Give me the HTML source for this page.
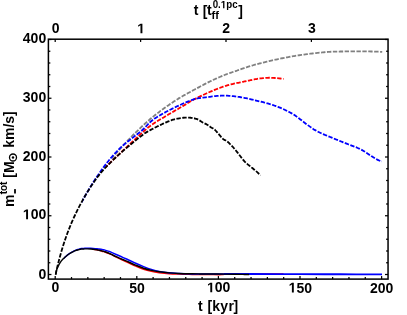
<!DOCTYPE html>
<html><head><meta charset="utf-8"><title>plot</title>
<style>
html,body{margin:0;padding:0;background:#fff;}
body{width:407px;height:315px;overflow:hidden;}
svg{display:block;will-change:transform;}
text{font-family:"Liberation Sans",sans-serif;font-weight:bold;fill:#000;}
</style></head><body>
<svg width="407" height="315" viewBox="0 0 407 315">
<rect x="0" y="0" width="407" height="315" fill="#fff"/>
<clipPath id="c0"><rect x="112.0" y="0" width="407" height="315"/></clipPath>
<path d="M55.70 274.60 C55.74 274.35 55.86 273.66 55.97 273.11 C56.07 272.56 56.19 272.00 56.33 271.33 C56.47 270.66 56.63 269.93 56.82 269.08 C57.01 268.23 57.22 267.30 57.47 266.22 C57.73 265.13 58.01 263.95 58.36 262.58 C58.71 261.20 59.09 259.70 59.56 257.96 C60.03 256.23 60.58 254.23 61.18 252.16 C61.78 250.10 62.51 247.67 63.18 245.56 C63.85 243.44 64.51 241.42 65.18 239.47 C65.85 237.51 66.51 235.64 67.18 233.83 C67.85 232.02 68.51 230.28 69.18 228.59 C69.85 226.91 70.51 225.29 71.18 223.70 C71.85 222.12 72.51 220.59 73.18 219.10 C73.85 217.60 74.51 216.16 75.18 214.74 C75.85 213.32 76.51 211.94 77.18 210.59 C77.85 209.24 78.51 207.93 79.18 206.64 C79.85 205.35 80.51 204.09 81.18 202.86 C81.85 201.62 82.51 200.41 83.18 199.23 C83.85 198.04 84.51 196.88 85.18 195.74 C85.85 194.60 86.51 193.49 87.18 192.39 C87.85 191.29 88.51 190.21 89.18 189.15 C89.85 188.09 90.51 187.06 91.18 186.03 C91.85 185.01 92.51 184.00 93.18 183.01 C93.85 182.01 94.51 181.04 95.18 180.07 C95.85 179.11 96.51 178.16 97.18 177.22 C97.85 176.29 98.51 175.36 99.18 174.45 C99.85 173.54 100.51 172.64 101.18 171.75 C101.85 170.86 102.51 169.98 103.18 169.11 C103.85 168.24 104.51 167.38 105.18 166.53 C105.85 165.68 106.51 164.84 107.18 164.01 C107.85 163.17 108.51 162.35 109.18 161.53 C109.85 160.72 110.51 159.91 111.18 159.11 C111.85 158.31 112.51 157.51 113.18 156.73 C113.85 155.94 114.51 155.16 115.18 154.39 C115.85 153.62 116.51 152.85 117.18 152.09 C117.85 151.33 118.51 150.58 119.18 149.83 C119.85 149.08 120.51 148.34 121.18 147.60 C121.85 146.87 122.51 146.14 123.18 145.41 C123.85 144.69 124.51 143.97 125.18 143.26 C125.85 142.55 126.51 141.84 127.18 141.14 C127.85 140.44 128.51 139.74 129.18 139.05 C129.85 138.36 130.51 137.67 131.18 137.00 C131.85 136.32 132.51 135.64 133.18 134.97 C133.85 134.31 134.51 133.64 135.18 132.99 C135.85 132.33 136.51 131.68 137.18 131.03 C137.85 130.38 138.51 129.74 139.18 129.11 C139.85 128.47 140.51 127.84 141.18 127.21 C141.85 126.59 142.51 125.97 143.18 125.35 C143.85 124.74 144.51 124.13 145.18 123.52 C145.85 122.92 146.51 122.32 147.18 121.72 C147.85 121.13 148.51 120.53 149.18 119.95 C149.85 119.38 150.51 118.81 151.18 118.26 C151.85 117.70 152.51 117.16 153.18 116.62 C153.85 116.08 154.51 115.54 155.18 115.01 C155.85 114.48 156.51 113.96 157.18 113.44 C157.85 112.93 158.51 112.41 159.18 111.91 C159.85 111.40 160.51 110.90 161.18 110.41 C161.85 109.92 162.51 109.43 163.18 108.95 C163.85 108.46 164.51 107.99 165.18 107.52 C165.85 107.04 166.51 106.56 167.18 106.09 C167.85 105.62 168.51 105.15 169.18 104.69 C169.85 104.23 170.51 103.78 171.18 103.33 C171.85 102.88 172.51 102.43 173.18 101.99 C173.85 101.55 174.51 101.12 175.18 100.68 C175.85 100.25 176.51 99.83 177.18 99.40 C177.85 98.98 178.51 98.55 179.18 98.14 C179.85 97.73 180.51 97.34 181.18 96.95 C181.85 96.56 182.51 96.19 183.18 95.82 C183.85 95.44 184.51 95.07 185.18 94.70 C185.85 94.33 186.51 93.96 187.18 93.60 C187.85 93.23 188.51 92.88 189.18 92.51 C189.85 92.15 190.51 91.77 191.18 91.41 C191.85 91.04 192.51 90.66 193.18 90.29 C193.85 89.93 194.51 89.56 195.18 89.20 C195.85 88.84 196.51 88.48 197.18 88.13 C197.85 87.78 198.51 87.43 199.18 87.08 C199.85 86.72 200.51 86.37 201.18 86.01 C201.85 85.65 202.51 85.29 203.18 84.94 C203.85 84.59 204.51 84.24 205.18 83.89 C205.85 83.55 206.51 83.20 207.18 82.87 C207.85 82.53 208.51 82.19 209.18 81.86 C209.85 81.53 210.51 81.21 211.18 80.89 C211.85 80.56 212.51 80.25 213.18 79.93 C213.85 79.62 214.51 79.31 215.18 79.00 C215.85 78.70 216.51 78.39 217.18 78.10 C217.85 77.80 218.51 77.51 219.18 77.22 C219.85 76.93 220.51 76.65 221.18 76.37 C221.85 76.09 222.51 75.81 223.18 75.54 C223.85 75.27 224.51 75.00 225.18 74.74 C225.85 74.49 226.51 74.25 227.18 74.00 C227.85 73.76 228.51 73.52 229.18 73.29 C229.85 73.05 230.51 72.82 231.18 72.59 C231.85 72.37 232.51 72.14 233.18 71.92 C233.85 71.70 234.51 71.49 235.18 71.26 C235.85 71.03 236.51 70.76 237.18 70.52 C237.85 70.28 238.51 70.04 239.18 69.80 C239.85 69.56 240.51 69.33 241.18 69.09 C241.85 68.86 242.51 68.63 243.18 68.41 C243.85 68.18 244.51 67.96 245.18 67.73 C245.85 67.51 246.51 67.29 247.18 67.08 C247.85 66.86 248.51 66.64 249.18 66.43 C249.85 66.23 250.51 66.02 251.18 65.82 C251.85 65.63 252.51 65.43 253.18 65.24 C253.85 65.05 254.51 64.86 255.18 64.67 C255.85 64.49 256.51 64.30 257.18 64.12 C257.85 63.94 258.51 63.76 259.18 63.58 C259.85 63.40 260.51 63.22 261.18 63.05 C261.85 62.88 262.51 62.71 263.18 62.53 C263.85 62.36 264.51 62.19 265.18 62.02 C265.85 61.86 266.51 61.69 267.18 61.52 C267.85 61.36 268.51 61.19 269.18 61.03 C269.85 60.87 270.51 60.72 271.18 60.56 C271.85 60.41 272.51 60.26 273.18 60.12 C273.85 59.97 274.51 59.82 275.18 59.68 C275.85 59.54 276.51 59.39 277.18 59.26 C277.85 59.12 278.51 58.98 279.18 58.84 C279.85 58.71 280.51 58.57 281.18 58.44 C281.85 58.31 282.51 58.18 283.18 58.05 C283.85 57.93 284.51 57.80 285.18 57.68 C285.85 57.55 286.51 57.42 287.18 57.30 C287.85 57.17 288.51 57.05 289.18 56.93 C289.85 56.81 290.51 56.69 291.18 56.57 C291.85 56.46 292.51 56.34 293.18 56.23 C293.85 56.11 294.51 56.00 295.18 55.89 C295.85 55.78 296.51 55.67 297.18 55.57 C297.85 55.46 298.51 55.36 299.18 55.25 C299.85 55.15 300.51 55.05 301.18 54.95 C301.85 54.85 302.51 54.76 303.18 54.66 C303.85 54.57 304.51 54.48 305.18 54.38 C305.85 54.29 306.51 54.20 307.18 54.12 C307.85 54.03 308.51 53.94 309.18 53.86 C309.85 53.77 310.51 53.69 311.18 53.61 C311.85 53.53 312.51 53.45 313.18 53.37 C313.85 53.29 314.51 53.22 315.18 53.14 C315.85 53.07 316.51 53.00 317.18 52.93 C317.85 52.86 318.51 52.79 319.18 52.72 C319.85 52.66 320.51 52.59 321.18 52.53 C321.85 52.46 322.51 52.40 323.18 52.34 C323.85 52.28 324.51 52.22 325.18 52.16 C325.85 52.10 326.51 52.05 327.18 51.99 C327.85 51.94 328.51 51.88 329.18 51.84 C329.85 51.79 330.51 51.76 331.18 51.73 C331.85 51.70 332.51 51.69 333.18 51.67 C333.85 51.65 334.51 51.63 335.18 51.61 C335.85 51.59 336.51 51.58 337.18 51.56 C337.85 51.55 338.51 51.54 339.18 51.53 C339.85 51.52 340.51 51.51 341.18 51.50 C341.85 51.49 342.51 51.48 343.18 51.48 C343.85 51.47 344.51 51.47 345.18 51.46 C345.85 51.45 346.51 51.43 347.18 51.41 C347.85 51.40 348.51 51.39 349.18 51.38 C349.85 51.37 350.51 51.36 351.18 51.35 C351.85 51.34 352.51 51.33 353.18 51.33 C353.85 51.32 354.51 51.32 355.18 51.32 C355.85 51.31 356.51 51.31 357.18 51.31 C357.85 51.31 358.51 51.31 359.18 51.31 C359.85 51.32 360.51 51.32 361.18 51.33 C361.85 51.33 362.51 51.34 363.18 51.34 C363.85 51.35 364.51 51.36 365.18 51.37 C365.85 51.38 366.51 51.39 367.18 51.40 C367.85 51.42 368.51 51.43 369.18 51.44 C369.85 51.46 370.51 51.48 371.18 51.49 C371.85 51.51 372.51 51.53 373.18 51.55 C373.85 51.57 374.51 51.59 375.18 51.61 C375.85 51.63 376.51 51.66 377.18 51.68 C377.85 51.71 378.51 51.73 379.18 51.76 C379.85 51.78 380.68 51.82 381.18 51.84 C381.68 51.86 382.03 51.88 382.20 51.89" fill="none" stroke="#808080" stroke-width="1.8" stroke-dasharray="4.4 1.5" clip-path="url(#c0)"/>
<clipPath id="c2"><rect x="106.0" y="0" width="407" height="315"/></clipPath>
<path d="M55.70 274.60 C55.74 274.31 55.86 273.46 55.97 272.86 C56.07 272.25 56.19 271.67 56.33 270.98 C56.47 270.28 56.63 269.55 56.82 268.70 C57.01 267.85 57.22 266.93 57.47 265.87 C57.73 264.80 58.01 263.65 58.36 262.30 C58.71 260.96 59.09 259.51 59.56 257.82 C60.03 256.14 60.58 254.20 61.18 252.19 C61.78 250.18 62.51 247.82 63.18 245.74 C63.85 243.67 64.51 241.68 65.18 239.74 C65.85 237.81 66.51 235.94 67.18 234.12 C67.85 232.30 68.51 230.55 69.18 228.83 C69.85 227.12 70.51 225.46 71.18 223.84 C71.85 222.22 72.51 220.65 73.18 219.12 C73.85 217.59 74.51 216.11 75.18 214.66 C75.85 213.21 76.51 211.80 77.18 210.43 C77.85 209.06 78.51 207.72 79.18 206.42 C79.85 205.13 80.51 203.86 81.18 202.63 C81.85 201.40 82.51 200.20 83.18 199.03 C83.85 197.86 84.51 196.72 85.18 195.59 C85.85 194.47 86.51 193.38 87.18 192.30 C87.85 191.22 88.51 190.16 89.18 189.12 C89.85 188.07 90.51 187.05 91.18 186.04 C91.85 185.02 92.51 184.03 93.18 183.04 C93.85 182.06 94.51 181.09 95.18 180.14 C95.85 179.19 96.51 178.25 97.18 177.34 C97.85 176.42 98.51 175.51 99.18 174.65 C99.85 173.79 100.51 172.97 101.18 172.17 C101.85 171.38 102.51 170.62 103.18 169.88 C103.85 169.14 104.51 168.42 105.18 167.71 C105.85 167.01 106.51 166.32 107.18 165.65 C107.85 164.97 108.51 164.32 109.18 163.67 C109.85 163.02 110.51 162.40 111.18 161.76 C111.85 161.12 112.51 160.48 113.18 159.83 C113.85 159.19 114.51 158.53 115.18 157.89 C115.85 157.25 116.51 156.61 117.18 155.98 C117.85 155.35 118.51 154.73 119.18 154.10 C119.85 153.48 120.51 152.86 121.18 152.24 C121.85 151.62 122.51 151.00 123.18 150.39 C123.85 149.77 124.51 149.15 125.18 148.54 C125.85 147.92 126.51 147.30 127.18 146.68 C127.85 146.06 128.51 145.45 129.18 144.83 C129.85 144.21 130.51 143.58 131.18 142.95 C131.85 142.32 132.51 141.68 133.18 141.05 C133.85 140.42 134.51 139.79 135.18 139.17 C135.85 138.54 136.51 137.92 137.18 137.30 C137.85 136.68 138.51 136.06 139.18 135.44 C139.85 134.83 140.51 134.22 141.18 133.61 C141.85 133.00 142.51 132.40 143.18 131.80 C143.85 131.20 144.51 130.60 145.18 130.02 C145.85 129.44 146.51 128.88 147.18 128.34 C147.85 127.79 148.51 127.25 149.18 126.74 C149.85 126.23 150.51 125.73 151.18 125.25 C151.85 124.77 152.51 124.32 153.18 123.87 C153.85 123.41 154.51 122.97 155.18 122.53 C155.85 122.10 156.51 121.67 157.18 121.25 C157.85 120.83 158.51 120.42 159.18 120.02 C159.85 119.61 160.51 119.22 161.18 118.83 C161.85 118.44 162.51 118.06 163.18 117.68 C163.85 117.29 164.51 116.94 165.18 116.54 C165.85 116.15 166.51 115.71 167.18 115.30 C167.85 114.89 168.51 114.49 169.18 114.09 C169.85 113.69 170.51 113.29 171.18 112.90 C171.85 112.50 172.51 112.12 173.18 111.73 C173.85 111.35 174.51 110.96 175.18 110.58 C175.85 110.21 176.51 109.83 177.18 109.46 C177.85 109.08 178.51 108.73 179.18 108.34 C179.85 107.96 180.51 107.55 181.18 107.14 C181.85 106.73 182.51 106.30 183.18 105.88 C183.85 105.47 184.51 105.05 185.18 104.63 C185.85 104.22 186.51 103.81 187.18 103.39 C187.85 102.98 188.51 102.57 189.18 102.16 C189.85 101.75 190.51 101.33 191.18 100.94 C191.85 100.56 192.51 100.20 193.18 99.84 C193.85 99.49 194.51 99.17 195.18 98.83 C195.85 98.50 196.51 98.17 197.18 97.84 C197.85 97.51 198.51 97.18 199.18 96.86 C199.85 96.54 200.51 96.22 201.18 95.90 C201.85 95.58 202.51 95.27 203.18 94.95 C203.85 94.64 204.51 94.34 205.18 94.03 C205.85 93.72 206.51 93.42 207.18 93.12 C207.85 92.82 208.51 92.52 209.18 92.23 C209.85 91.94 210.51 91.65 211.18 91.37 C211.85 91.08 212.51 90.80 213.18 90.52 C213.85 90.25 214.51 89.97 215.18 89.70 C215.85 89.43 216.51 89.17 217.18 88.91 C217.85 88.65 218.51 88.39 219.18 88.14 C219.85 87.89 220.51 87.64 221.18 87.39 C221.85 87.15 222.51 86.91 223.18 86.68 C223.85 86.44 224.51 86.20 225.18 85.99 C225.85 85.78 226.51 85.59 227.18 85.39 C227.85 85.20 228.51 85.01 229.18 84.82 C229.85 84.64 230.51 84.46 231.18 84.28 C231.85 84.11 232.51 83.93 233.18 83.77 C233.85 83.61 234.51 83.47 235.18 83.33 C235.85 83.18 236.51 83.05 237.18 82.91 C237.85 82.78 238.51 82.65 239.18 82.53 C239.85 82.41 240.51 82.30 241.18 82.18 C241.85 82.05 242.51 81.90 243.18 81.76 C243.85 81.62 244.51 81.46 245.18 81.31 C245.85 81.17 246.51 81.03 247.18 80.89 C247.85 80.76 248.51 80.64 249.18 80.51 C249.85 80.38 250.51 80.23 251.18 80.09 C251.85 79.94 252.51 79.79 253.18 79.64 C253.85 79.50 254.51 79.37 255.18 79.24 C255.85 79.11 256.51 78.98 257.18 78.86 C257.85 78.75 258.51 78.65 259.18 78.56 C259.85 78.47 260.51 78.39 261.18 78.31 C261.85 78.23 262.51 78.16 263.18 78.10 C263.85 78.03 264.51 77.97 265.18 77.92 C265.85 77.87 266.51 77.81 267.18 77.78 C267.85 77.75 268.51 77.75 269.18 77.75 C269.85 77.75 270.51 77.78 271.18 77.80 C271.85 77.83 272.51 77.85 273.18 77.89 C273.85 77.93 274.51 77.97 275.18 78.02 C275.85 78.07 276.51 78.12 277.18 78.18 C277.85 78.24 278.51 78.31 279.18 78.38 C279.85 78.46 280.51 78.54 281.18 78.62 C281.85 78.71 282.78 78.84 283.18 78.90 C283.58 78.96 283.53 78.95 283.60 78.96" fill="none" stroke="#ff0000" stroke-width="1.8" stroke-dasharray="4.4 1.5" clip-path="url(#c2)"/>
<clipPath id="c4"><rect x="82.0" y="0" width="407" height="315"/></clipPath>
<path d="M55.70 274.60 C55.74 274.31 55.86 273.44 55.97 272.84 C56.07 272.23 56.19 271.67 56.33 270.99 C56.47 270.31 56.63 269.60 56.82 268.76 C57.01 267.93 57.22 267.04 57.47 266.00 C57.73 264.96 58.01 263.83 58.36 262.51 C58.71 261.20 59.09 259.76 59.56 258.09 C60.03 256.41 60.58 254.48 61.18 252.44 C61.78 250.41 62.51 247.99 63.18 245.86 C63.85 243.73 64.51 241.65 65.18 239.65 C65.85 237.64 66.51 235.70 67.18 233.83 C67.85 231.96 68.51 230.16 69.18 228.43 C69.85 226.70 70.51 225.05 71.18 223.45 C71.85 221.85 72.51 220.33 73.18 218.84 C73.85 217.36 74.51 215.93 75.18 214.53 C75.85 213.14 76.51 211.79 77.18 210.47 C77.85 209.15 78.51 207.86 79.18 206.60 C79.85 205.34 80.51 204.11 81.18 202.90 C81.85 201.69 82.51 200.52 83.18 199.34 C83.85 198.16 84.51 196.98 85.18 195.81 C85.85 194.64 86.51 193.48 87.18 192.33 C87.85 191.18 88.51 190.05 89.18 188.93 C89.85 187.81 90.51 186.69 91.18 185.60 C91.85 184.52 92.51 183.46 93.18 182.41 C93.85 181.37 94.51 180.36 95.18 179.34 C95.85 178.33 96.51 177.33 97.18 176.34 C97.85 175.35 98.51 174.37 99.18 173.41 C99.85 172.45 100.51 171.50 101.18 170.56 C101.85 169.63 102.51 168.70 103.18 167.80 C103.85 166.89 104.51 165.99 105.18 165.12 C105.85 164.24 106.51 163.37 107.18 162.53 C107.85 161.68 108.51 160.85 109.18 160.03 C109.85 159.21 110.51 158.41 111.18 157.63 C111.85 156.85 112.51 156.08 113.18 155.33 C113.85 154.58 114.51 153.84 115.18 153.12 C115.85 152.40 116.51 151.70 117.18 151.02 C117.85 150.33 118.51 149.67 119.18 149.02 C119.85 148.37 120.51 147.73 121.18 147.12 C121.85 146.50 122.51 145.90 123.18 145.32 C123.85 144.74 124.51 144.18 125.18 143.63 C125.85 143.07 126.51 142.54 127.18 142.01 C127.85 141.49 128.51 140.97 129.18 140.45 C129.85 139.93 130.51 139.42 131.18 138.91 C131.85 138.39 132.51 137.87 133.18 137.35 C133.85 136.83 134.51 136.28 135.18 135.77 C135.85 135.26 136.51 134.80 137.18 134.30 C137.85 133.79 138.51 133.27 139.18 132.73 C139.85 132.19 140.51 131.64 141.18 131.06 C141.85 130.49 142.51 129.89 143.18 129.27 C143.85 128.64 144.51 128.00 145.18 127.33 C145.85 126.66 146.51 125.92 147.18 125.23 C147.85 124.54 148.51 123.84 149.18 123.18 C149.85 122.53 150.51 121.88 151.18 121.28 C151.85 120.68 152.51 120.12 153.18 119.60 C153.85 119.09 154.51 118.63 155.18 118.18 C155.85 117.73 156.51 117.33 157.18 116.93 C157.85 116.53 158.51 116.16 159.18 115.78 C159.85 115.39 160.51 115.01 161.18 114.63 C161.85 114.25 162.51 113.87 163.18 113.49 C163.85 113.11 164.51 112.74 165.18 112.37 C165.85 112.01 166.51 111.64 167.18 111.28 C167.85 110.93 168.51 110.57 169.18 110.22 C169.85 109.88 170.51 109.53 171.18 109.19 C171.85 108.85 172.51 108.52 173.18 108.19 C173.85 107.87 174.51 107.54 175.18 107.23 C175.85 106.91 176.51 106.60 177.18 106.29 C177.85 105.99 178.51 105.70 179.18 105.39 C179.85 105.09 180.51 104.78 181.18 104.47 C181.85 104.17 182.51 103.85 183.18 103.55 C183.85 103.25 184.51 102.95 185.18 102.66 C185.85 102.37 186.51 102.09 187.18 101.81 C187.85 101.54 188.51 101.27 189.18 101.01 C189.85 100.74 190.51 100.48 191.18 100.24 C191.85 100.00 192.51 99.78 193.18 99.57 C193.85 99.36 194.51 99.17 195.18 98.99 C195.85 98.80 196.51 98.61 197.18 98.46 C197.85 98.32 198.51 98.23 199.18 98.12 C199.85 98.01 200.51 97.91 201.18 97.82 C201.85 97.72 202.51 97.64 203.18 97.56 C203.85 97.48 204.51 97.41 205.18 97.35 C205.85 97.29 206.51 97.26 207.18 97.19 C207.85 97.11 208.51 97.00 209.18 96.90 C209.85 96.80 210.51 96.69 211.18 96.60 C211.85 96.51 212.51 96.43 213.18 96.35 C213.85 96.27 214.51 96.20 215.18 96.14 C215.85 96.07 216.51 96.02 217.18 95.97 C217.85 95.92 218.51 95.87 219.18 95.83 C219.85 95.79 220.51 95.75 221.18 95.72 C221.85 95.69 222.51 95.66 223.18 95.64 C223.85 95.63 224.51 95.60 225.18 95.61 C225.85 95.61 226.51 95.63 227.18 95.67 C227.85 95.70 228.51 95.75 229.18 95.80 C229.85 95.85 230.51 95.91 231.18 95.97 C231.85 96.03 232.51 96.10 233.18 96.17 C233.85 96.24 234.51 96.32 235.18 96.40 C235.85 96.49 236.51 96.57 237.18 96.67 C237.85 96.76 238.51 96.86 239.18 96.96 C239.85 97.06 240.51 97.17 241.18 97.28 C241.85 97.39 242.51 97.51 243.18 97.63 C243.85 97.75 244.51 97.88 245.18 98.01 C245.85 98.14 246.51 98.27 247.18 98.41 C247.85 98.55 248.51 98.70 249.18 98.84 C249.85 98.99 250.51 99.14 251.18 99.30 C251.85 99.45 252.51 99.61 253.18 99.77 C253.85 99.94 254.51 100.11 255.18 100.28 C255.85 100.45 256.51 100.63 257.18 100.80 C257.85 100.97 258.51 101.13 259.18 101.29 C259.85 101.44 260.51 101.59 261.18 101.75 C261.85 101.91 262.51 102.07 263.18 102.24 C263.85 102.41 264.51 102.57 265.18 102.75 C265.85 102.92 266.51 103.09 267.18 103.27 C267.85 103.45 268.51 103.62 269.18 103.82 C269.85 104.01 270.51 104.22 271.18 104.44 C271.85 104.66 272.51 104.89 273.18 105.12 C273.85 105.36 274.51 105.59 275.18 105.83 C275.85 106.08 276.51 106.32 277.18 106.58 C277.85 106.83 278.51 107.09 279.18 107.35 C279.85 107.62 280.51 107.89 281.18 108.17 C281.85 108.45 282.51 108.74 283.18 109.04 C283.85 109.34 284.51 109.65 285.18 109.97 C285.85 110.29 286.51 110.62 287.18 110.96 C287.85 111.30 288.51 111.65 289.18 112.01 C289.85 112.37 290.51 112.74 291.18 113.12 C291.85 113.50 292.51 113.89 293.18 114.30 C293.85 114.71 294.51 115.11 295.18 115.56 C295.85 116.00 296.51 116.49 297.18 116.97 C297.85 117.45 298.51 117.95 299.18 118.46 C299.85 118.96 300.51 119.48 301.18 120.01 C301.85 120.53 302.51 121.06 303.18 121.59 C303.85 122.12 304.51 122.67 305.18 123.18 C305.85 123.70 306.51 124.18 307.18 124.68 C307.85 125.17 308.51 125.66 309.18 126.14 C309.85 126.62 310.51 127.09 311.18 127.55 C311.85 128.00 312.51 128.45 313.18 128.88 C313.85 129.31 314.51 129.72 315.18 130.12 C315.85 130.51 316.51 130.89 317.18 131.25 C317.85 131.61 318.51 131.95 319.18 132.28 C319.85 132.61 320.51 132.92 321.18 133.23 C321.85 133.53 322.51 133.83 323.18 134.12 C323.85 134.41 324.51 134.69 325.18 134.96 C325.85 135.24 326.51 135.51 327.18 135.79 C327.85 136.06 328.51 136.33 329.18 136.61 C329.85 136.88 330.51 137.15 331.18 137.42 C331.85 137.70 332.51 137.97 333.18 138.24 C333.85 138.52 334.51 138.79 335.18 139.06 C335.85 139.33 336.51 139.61 337.18 139.88 C337.85 140.15 338.51 140.42 339.18 140.69 C339.85 140.96 340.51 141.23 341.18 141.50 C341.85 141.77 342.51 142.03 343.18 142.30 C343.85 142.57 344.51 142.83 345.18 143.10 C345.85 143.36 346.51 143.62 347.18 143.89 C347.85 144.15 348.51 144.41 349.18 144.67 C349.85 144.93 350.51 145.18 351.18 145.44 C351.85 145.69 352.51 145.95 353.18 146.20 C353.85 146.45 354.51 146.70 355.18 146.95 C355.85 147.21 356.51 147.46 357.18 147.74 C357.85 148.01 358.51 148.29 359.18 148.59 C359.85 148.90 360.51 149.22 361.18 149.58 C361.85 149.93 362.51 150.31 363.18 150.71 C363.85 151.11 364.51 151.53 365.18 151.96 C365.85 152.40 366.51 152.85 367.18 153.29 C367.85 153.74 368.51 154.20 369.18 154.66 C369.85 155.11 370.51 155.57 371.18 156.01 C371.85 156.45 372.51 156.90 373.18 157.31 C373.85 157.73 374.51 158.14 375.18 158.53 C375.85 158.91 376.51 159.28 377.18 159.61 C377.85 159.94 378.51 160.25 379.18 160.52 C379.85 160.78 380.73 161.07 381.18 161.22 C381.63 161.37 381.78 161.38 381.90 161.41" fill="none" stroke="#0000ff" stroke-width="1.8" stroke-dasharray="4.4 1.5" clip-path="url(#c4)"/>
<path d="M55.70 274.60 C55.74 274.36 55.86 273.68 55.97 273.14 C56.07 272.60 56.19 272.04 56.33 271.37 C56.47 270.70 56.63 269.98 56.82 269.12 C57.01 268.27 57.22 267.35 57.47 266.26 C57.73 265.17 58.01 263.99 58.36 262.61 C58.71 261.23 59.09 259.72 59.56 257.98 C60.03 256.24 60.58 254.23 61.18 252.16 C61.78 250.08 62.51 247.65 63.18 245.53 C63.85 243.41 64.51 241.39 65.18 239.43 C65.85 237.47 66.51 235.60 67.18 233.79 C67.85 231.98 68.51 230.24 69.18 228.56 C69.85 226.87 70.51 225.25 71.18 223.67 C71.85 222.10 72.51 220.57 73.18 219.08 C73.85 217.59 74.51 216.15 75.18 214.74 C75.85 213.32 76.51 211.95 77.18 210.61 C77.85 209.26 78.51 207.95 79.18 206.66 C79.85 205.38 80.51 204.12 81.18 202.89 C81.85 201.65 82.51 200.45 83.18 199.26 C83.85 198.08 84.51 196.92 85.18 195.78 C85.85 194.64 86.51 193.52 87.18 192.43 C87.85 191.33 88.51 190.26 89.18 189.20 C89.85 188.15 90.51 187.11 91.18 186.10 C91.85 185.08 92.51 184.09 93.18 183.11 C93.85 182.14 94.51 181.18 95.18 180.24 C95.85 179.30 96.51 178.39 97.18 177.48 C97.85 176.58 98.51 175.68 99.18 174.83 C99.85 173.98 100.51 173.17 101.18 172.38 C101.85 171.59 102.51 170.83 103.18 170.09 C103.85 169.34 104.51 168.61 105.18 167.90 C105.85 167.18 106.51 166.49 107.18 165.80 C107.85 165.12 108.51 164.46 109.18 163.80 C109.85 163.15 110.51 162.53 111.18 161.89 C111.85 161.25 112.51 160.60 113.18 159.96 C113.85 159.31 114.51 158.66 115.18 158.03 C115.85 157.40 116.51 156.77 117.18 156.16 C117.85 155.54 118.51 154.93 119.18 154.33 C119.85 153.73 120.51 153.14 121.18 152.55 C121.85 151.96 122.51 151.38 123.18 150.80 C123.85 150.22 124.51 149.65 125.18 149.08 C125.85 148.52 126.51 147.95 127.18 147.39 C127.85 146.83 128.51 146.28 129.18 145.72 C129.85 145.16 130.51 144.60 131.18 144.05 C131.85 143.49 132.51 142.94 133.18 142.39 C133.85 141.83 134.51 141.29 135.18 140.74 C135.85 140.20 136.51 139.66 137.18 139.13 C137.85 138.60 138.51 138.07 139.18 137.55 C139.85 137.03 140.51 136.51 141.18 136.00 C141.85 135.49 142.51 134.99 143.18 134.50 C143.85 134.01 144.51 133.50 145.18 133.06 C145.85 132.62 146.51 132.26 147.18 131.87 C147.85 131.48 148.51 131.10 149.18 130.73 C149.85 130.37 150.51 130.01 151.18 129.66 C151.85 129.30 152.51 128.95 153.18 128.60 C153.85 128.25 154.51 127.89 155.18 127.55 C155.85 127.21 156.51 126.88 157.18 126.56 C157.85 126.25 158.51 125.97 159.18 125.64 C159.85 125.32 160.51 124.97 161.18 124.63 C161.85 124.30 162.51 123.96 163.18 123.64 C163.85 123.32 164.51 123.01 165.18 122.72 C165.85 122.42 166.51 122.14 167.18 121.87 C167.85 121.60 168.51 121.33 169.18 121.07 C169.85 120.82 170.51 120.58 171.18 120.36 C171.85 120.13 172.51 119.92 173.18 119.72 C173.85 119.53 174.51 119.34 175.18 119.17 C175.85 119.00 176.51 118.83 177.18 118.69 C177.85 118.54 178.51 118.41 179.18 118.29 C179.85 118.18 180.51 118.07 181.18 117.98 C181.85 117.90 182.51 117.82 183.18 117.76 C183.85 117.69 184.51 117.64 185.18 117.61 C185.85 117.58 186.51 117.56 187.18 117.55 C187.85 117.55 188.51 117.55 189.18 117.59 C189.85 117.63 190.51 117.72 191.18 117.80 C191.85 117.89 192.51 117.99 193.18 118.11 C193.85 118.23 194.51 118.34 195.18 118.51 C195.85 118.68 196.51 118.86 197.18 119.15 C197.85 119.43 198.51 119.85 199.18 120.23 C199.85 120.61 200.51 121.01 201.18 121.42 C201.85 121.83 202.51 122.30 203.18 122.67 C203.85 123.05 204.51 123.31 205.18 123.66 C205.85 124.01 206.51 124.38 207.18 124.78 C207.85 125.18 208.51 125.61 209.18 126.05 C209.85 126.49 210.51 127.00 211.18 127.42 C211.85 127.84 212.51 128.13 213.18 128.57 C213.85 129.01 214.51 129.42 215.18 130.04 C215.85 130.66 216.51 131.52 217.18 132.29 C217.85 133.06 218.51 133.85 219.18 134.64 C219.85 135.43 220.51 136.31 221.18 137.06 C221.85 137.81 222.51 138.63 223.18 139.14 C223.85 139.66 224.51 139.79 225.18 140.17 C225.85 140.54 226.51 140.88 227.18 141.39 C227.85 141.90 228.51 142.59 229.18 143.22 C229.85 143.85 230.51 144.50 231.18 145.17 C231.85 145.85 232.51 146.51 233.18 147.27 C233.85 148.02 234.51 148.88 235.18 149.70 C235.85 150.52 236.51 151.34 237.18 152.18 C237.85 153.03 238.51 153.93 239.18 154.79 C239.85 155.65 240.51 156.51 241.18 157.35 C241.85 158.19 242.51 159.03 243.18 159.82 C243.85 160.62 244.51 161.43 245.18 162.11 C245.85 162.79 246.51 163.31 247.18 163.88 C247.85 164.45 248.51 164.99 249.18 165.54 C249.85 166.09 250.51 166.65 251.18 167.18 C251.85 167.72 252.51 168.21 253.18 168.77 C253.85 169.32 254.51 169.92 255.18 170.49 C255.85 171.06 256.51 171.60 257.18 172.18 C257.85 172.76 258.61 173.46 259.18 173.96 C259.75 174.47 260.36 174.99 260.60 175.20" fill="none" stroke="#000000" stroke-width="1.8" stroke-dasharray="4.4 1.5"/>
<clipPath id="c7"><rect x="92.0" y="0" width="407" height="315"/></clipPath>
<path d="M55.70 274.60 C55.75 274.25 55.83 273.32 56.00 272.50 C56.17 271.68 56.32 270.78 56.70 269.70 C57.08 268.62 57.75 267.15 58.30 266.00 C58.85 264.85 59.22 263.95 60.00 262.80 C60.78 261.65 61.98 260.20 63.00 259.10 C64.02 258.00 65.10 257.05 66.10 256.20 C67.10 255.35 67.97 254.68 69.00 254.00 C70.03 253.32 71.23 252.67 72.30 252.10 C73.37 251.53 74.38 250.99 75.40 250.60 C76.42 250.21 77.40 250.01 78.40 249.75 C79.40 249.49 80.37 249.19 81.40 249.05 C82.43 248.91 83.62 248.92 84.60 248.90 C85.58 248.88 86.28 248.88 87.30 248.90 C88.32 248.92 89.72 248.97 90.70 249.03 C91.68 249.09 92.15 249.11 93.20 249.25 C94.25 249.39 96.02 249.68 97.00 249.87 C97.98 250.05 98.10 250.09 99.10 250.35 C100.10 250.61 102.02 251.15 103.00 251.42 C103.98 251.68 104.00 251.59 105.00 251.95 C106.00 252.31 108.02 253.15 109.00 253.57 C109.98 253.98 109.60 253.82 110.90 254.45 C112.20 255.08 114.83 256.41 116.80 257.35 C118.77 258.29 120.73 259.19 122.70 260.10 C124.67 261.01 126.43 261.79 128.60 262.80 C130.77 263.81 133.20 265.07 135.70 266.15 C138.20 267.23 140.98 268.43 143.60 269.30 C146.22 270.17 148.78 270.79 151.40 271.35 C154.02 271.91 156.35 272.27 159.30 272.65 C162.25 273.03 165.83 273.41 169.10 273.65 C172.37 273.89 175.62 273.98 178.90 274.10 C182.18 274.22 185.52 274.29 188.80 274.35 C192.08 274.41 195.07 274.42 198.60 274.45 C202.13 274.48 206.10 274.52 210.00 274.55 C213.90 274.58 219.33 274.68 222.00 274.60 C224.67 274.53 223.00 274.20 226.00 274.10 C229.00 274.00 230.42 274.02 240.00 274.00 C249.58 273.98 276.25 274.00 283.50 274.00" fill="none" stroke="#ff0000" stroke-width="1.5" clip-path="url(#c7)"/>
<clipPath id="c9"><rect x="64.0" y="0" width="407" height="315"/></clipPath>
<path d="M55.70 274.60 C55.75 274.25 55.83 273.32 56.00 272.50 C56.17 271.68 56.32 270.78 56.70 269.70 C57.08 268.62 57.75 267.15 58.30 266.00 C58.85 264.85 59.22 263.95 60.00 262.80 C60.78 261.65 61.98 260.20 63.00 259.10 C64.02 258.00 65.10 257.06 66.10 256.20 C67.10 255.33 67.97 254.63 69.00 253.93 C70.03 253.22 71.23 252.54 72.30 251.94 C73.37 251.34 74.38 250.76 75.40 250.34 C76.42 249.91 77.40 249.68 78.40 249.39 C79.40 249.10 80.37 248.78 81.40 248.61 C82.43 248.44 83.62 248.42 84.60 248.37 C85.58 248.31 86.28 248.31 87.30 248.29 C88.32 248.27 89.72 248.26 90.70 248.28 C91.68 248.29 92.15 248.32 93.20 248.39 C94.25 248.45 96.02 248.58 97.00 248.68 C97.98 248.78 98.10 248.82 99.10 248.99 C100.10 249.17 102.02 249.55 103.00 249.73 C103.98 249.92 104.00 249.83 105.00 250.10 C106.00 250.37 108.02 251.05 109.00 251.38 C109.98 251.71 109.60 251.55 110.90 252.10 C112.20 252.65 114.83 253.82 116.80 254.70 C118.77 255.58 120.73 256.52 122.70 257.40 C124.67 258.28 126.43 259.02 128.60 260.00 C130.77 260.98 133.20 262.15 135.70 263.25 C138.20 264.35 140.98 265.57 143.60 266.60 C146.22 267.62 148.78 268.59 151.40 269.40 C154.02 270.21 156.35 270.87 159.30 271.45 C162.25 272.03 165.83 272.52 169.10 272.85 C172.37 273.18 175.62 273.30 178.90 273.45 C182.18 273.60 186.95 273.68 188.80 273.75 C190.65 273.82 188.13 273.87 190.00 273.90 C191.87 273.93 195.83 273.93 200.00 273.95 C204.17 273.97 210.33 273.99 215.00 274.00 C219.67 274.01 225.83 274.00 228.00 274.00" fill="none" stroke="#0000ff" stroke-width="1.5" clip-path="url(#c9)"/>
<path d="M224.00 274.00 C228.33 274.00 237.33 273.98 250.00 274.00 C262.67 274.02 285.00 274.10 300.00 274.15 C315.00 274.20 326.33 274.26 340.00 274.30 C353.67 274.34 375.00 274.38 382.00 274.40" fill="none" stroke="#0000ff" stroke-width="1.9"/>
<path d="M55.70 274.60 C55.75 274.25 55.83 273.32 56.00 272.50 C56.17 271.68 56.32 270.78 56.70 269.70 C57.08 268.62 57.75 267.15 58.30 266.00 C58.85 264.85 59.22 263.95 60.00 262.80 C60.78 261.65 61.98 260.20 63.00 259.10 C64.02 258.00 65.10 257.05 66.10 256.20 C67.10 255.35 67.97 254.68 69.00 254.00 C70.03 253.32 71.23 252.67 72.30 252.10 C73.37 251.53 74.38 250.99 75.40 250.60 C76.42 250.21 77.40 250.01 78.40 249.75 C79.40 249.49 80.37 249.19 81.40 249.05 C82.43 248.91 83.62 248.93 84.60 248.90 C85.58 248.88 86.28 248.88 87.30 248.90 C88.32 248.92 89.72 248.95 90.70 249.00 C91.68 249.05 92.15 249.07 93.20 249.20 C94.25 249.32 96.02 249.58 97.00 249.75 C97.98 249.92 98.10 249.96 99.10 250.20 C100.10 250.44 102.02 250.95 103.00 251.20 C103.98 251.45 104.00 251.36 105.00 251.70 C106.00 252.04 108.02 252.85 109.00 253.25 C109.98 253.65 109.60 253.49 110.90 254.10 C112.20 254.71 114.83 256.00 116.80 256.90 C118.77 257.80 120.73 258.65 122.70 259.50 C124.67 260.35 126.43 261.06 128.60 262.00 C130.77 262.94 133.20 264.12 135.70 265.15 C138.20 266.18 140.98 267.33 143.60 268.20 C146.22 269.07 148.78 269.75 151.40 270.35 C154.02 270.95 156.35 271.38 159.30 271.80 C162.25 272.23 165.83 272.62 169.10 272.90 C172.37 273.17 175.62 273.31 178.90 273.45 C182.18 273.59 185.52 273.68 188.80 273.75 C192.08 273.82 195.07 273.86 198.60 273.90 C202.13 273.94 205.60 273.97 210.00 274.00 C214.40 274.03 220.83 274.07 225.00 274.10 C229.17 274.13 232.00 274.15 235.00 274.20 C238.00 274.25 240.63 274.35 243.00 274.40 C245.37 274.45 248.17 274.48 249.20 274.50" fill="none" stroke="#000000" stroke-width="1.45"/>
<rect x="48.40" y="39.20" width="339.65" height="239.90" fill="none" stroke="#000" stroke-width="1.5"/>
<line x1="48.40" y1="274.50" x2="51.45" y2="274.50" stroke="#000" stroke-width="1.25"/>
<line x1="388.05" y1="274.50" x2="385.00" y2="274.50" stroke="#000" stroke-width="1.25"/>
<line x1="48.40" y1="262.75" x2="50.35" y2="262.75" stroke="#000" stroke-width="1.25"/>
<line x1="388.05" y1="262.75" x2="386.10" y2="262.75" stroke="#000" stroke-width="1.25"/>
<line x1="48.40" y1="251.00" x2="50.35" y2="251.00" stroke="#000" stroke-width="1.25"/>
<line x1="388.05" y1="251.00" x2="386.10" y2="251.00" stroke="#000" stroke-width="1.25"/>
<line x1="48.40" y1="239.25" x2="50.35" y2="239.25" stroke="#000" stroke-width="1.25"/>
<line x1="388.05" y1="239.25" x2="386.10" y2="239.25" stroke="#000" stroke-width="1.25"/>
<line x1="48.40" y1="227.50" x2="50.35" y2="227.50" stroke="#000" stroke-width="1.25"/>
<line x1="388.05" y1="227.50" x2="386.10" y2="227.50" stroke="#000" stroke-width="1.25"/>
<line x1="48.40" y1="215.75" x2="51.45" y2="215.75" stroke="#000" stroke-width="1.25"/>
<line x1="388.05" y1="215.75" x2="385.00" y2="215.75" stroke="#000" stroke-width="1.25"/>
<line x1="48.40" y1="204.00" x2="50.35" y2="204.00" stroke="#000" stroke-width="1.25"/>
<line x1="388.05" y1="204.00" x2="386.10" y2="204.00" stroke="#000" stroke-width="1.25"/>
<line x1="48.40" y1="192.25" x2="50.35" y2="192.25" stroke="#000" stroke-width="1.25"/>
<line x1="388.05" y1="192.25" x2="386.10" y2="192.25" stroke="#000" stroke-width="1.25"/>
<line x1="48.40" y1="180.50" x2="50.35" y2="180.50" stroke="#000" stroke-width="1.25"/>
<line x1="388.05" y1="180.50" x2="386.10" y2="180.50" stroke="#000" stroke-width="1.25"/>
<line x1="48.40" y1="168.75" x2="50.35" y2="168.75" stroke="#000" stroke-width="1.25"/>
<line x1="388.05" y1="168.75" x2="386.10" y2="168.75" stroke="#000" stroke-width="1.25"/>
<line x1="48.40" y1="157.00" x2="51.45" y2="157.00" stroke="#000" stroke-width="1.25"/>
<line x1="388.05" y1="157.00" x2="385.00" y2="157.00" stroke="#000" stroke-width="1.25"/>
<line x1="48.40" y1="145.25" x2="50.35" y2="145.25" stroke="#000" stroke-width="1.25"/>
<line x1="388.05" y1="145.25" x2="386.10" y2="145.25" stroke="#000" stroke-width="1.25"/>
<line x1="48.40" y1="133.50" x2="50.35" y2="133.50" stroke="#000" stroke-width="1.25"/>
<line x1="388.05" y1="133.50" x2="386.10" y2="133.50" stroke="#000" stroke-width="1.25"/>
<line x1="48.40" y1="121.75" x2="50.35" y2="121.75" stroke="#000" stroke-width="1.25"/>
<line x1="388.05" y1="121.75" x2="386.10" y2="121.75" stroke="#000" stroke-width="1.25"/>
<line x1="48.40" y1="110.00" x2="50.35" y2="110.00" stroke="#000" stroke-width="1.25"/>
<line x1="388.05" y1="110.00" x2="386.10" y2="110.00" stroke="#000" stroke-width="1.25"/>
<line x1="48.40" y1="98.25" x2="51.45" y2="98.25" stroke="#000" stroke-width="1.25"/>
<line x1="388.05" y1="98.25" x2="385.00" y2="98.25" stroke="#000" stroke-width="1.25"/>
<line x1="48.40" y1="86.50" x2="50.35" y2="86.50" stroke="#000" stroke-width="1.25"/>
<line x1="388.05" y1="86.50" x2="386.10" y2="86.50" stroke="#000" stroke-width="1.25"/>
<line x1="48.40" y1="74.75" x2="50.35" y2="74.75" stroke="#000" stroke-width="1.25"/>
<line x1="388.05" y1="74.75" x2="386.10" y2="74.75" stroke="#000" stroke-width="1.25"/>
<line x1="48.40" y1="63.00" x2="50.35" y2="63.00" stroke="#000" stroke-width="1.25"/>
<line x1="388.05" y1="63.00" x2="386.10" y2="63.00" stroke="#000" stroke-width="1.25"/>
<line x1="48.40" y1="51.25" x2="50.35" y2="51.25" stroke="#000" stroke-width="1.25"/>
<line x1="388.05" y1="51.25" x2="386.10" y2="51.25" stroke="#000" stroke-width="1.25"/>
<line x1="48.40" y1="39.50" x2="51.45" y2="39.50" stroke="#000" stroke-width="1.25"/>
<line x1="388.05" y1="39.50" x2="385.00" y2="39.50" stroke="#000" stroke-width="1.25"/>
<line x1="55.20" y1="279.10" x2="55.20" y2="276.05" stroke="#000" stroke-width="1.25"/>
<line x1="71.52" y1="279.10" x2="71.52" y2="277.05" stroke="#000" stroke-width="1.25"/>
<line x1="87.84" y1="279.10" x2="87.84" y2="277.05" stroke="#000" stroke-width="1.25"/>
<line x1="104.16" y1="279.10" x2="104.16" y2="277.05" stroke="#000" stroke-width="1.25"/>
<line x1="120.48" y1="279.10" x2="120.48" y2="277.05" stroke="#000" stroke-width="1.25"/>
<line x1="136.80" y1="279.10" x2="136.80" y2="276.05" stroke="#000" stroke-width="1.25"/>
<line x1="153.12" y1="279.10" x2="153.12" y2="277.05" stroke="#000" stroke-width="1.25"/>
<line x1="169.44" y1="279.10" x2="169.44" y2="277.05" stroke="#000" stroke-width="1.25"/>
<line x1="185.76" y1="279.10" x2="185.76" y2="277.05" stroke="#000" stroke-width="1.25"/>
<line x1="202.08" y1="279.10" x2="202.08" y2="277.05" stroke="#000" stroke-width="1.25"/>
<line x1="218.40" y1="279.10" x2="218.40" y2="276.05" stroke="#000" stroke-width="1.25"/>
<line x1="234.72" y1="279.10" x2="234.72" y2="277.05" stroke="#000" stroke-width="1.25"/>
<line x1="251.04" y1="279.10" x2="251.04" y2="277.05" stroke="#000" stroke-width="1.25"/>
<line x1="267.36" y1="279.10" x2="267.36" y2="277.05" stroke="#000" stroke-width="1.25"/>
<line x1="283.68" y1="279.10" x2="283.68" y2="277.05" stroke="#000" stroke-width="1.25"/>
<line x1="300.00" y1="279.10" x2="300.00" y2="276.05" stroke="#000" stroke-width="1.25"/>
<line x1="316.32" y1="279.10" x2="316.32" y2="277.05" stroke="#000" stroke-width="1.25"/>
<line x1="332.64" y1="279.10" x2="332.64" y2="277.05" stroke="#000" stroke-width="1.25"/>
<line x1="348.96" y1="279.10" x2="348.96" y2="277.05" stroke="#000" stroke-width="1.25"/>
<line x1="365.28" y1="279.10" x2="365.28" y2="277.05" stroke="#000" stroke-width="1.25"/>
<line x1="381.60" y1="279.10" x2="381.60" y2="276.05" stroke="#000" stroke-width="1.25"/>
<line x1="55.20" y1="39.20" x2="55.20" y2="41.95" stroke="#000" stroke-width="1.25"/>
<line x1="140.60" y1="39.20" x2="140.60" y2="41.95" stroke="#000" stroke-width="1.25"/>
<line x1="226.00" y1="39.20" x2="226.00" y2="41.95" stroke="#000" stroke-width="1.25"/>
<line x1="311.40" y1="39.20" x2="311.40" y2="41.95" stroke="#000" stroke-width="1.25"/>
<text x="55.50" y="292.45" text-anchor="middle" font-size="14" >0</text>
<text x="137.10" y="292.90" text-anchor="middle" font-size="14" >50</text>
<path transform="translate(207.02,292.35) scale(0.006836,-0.006836)" d="M478 0V1170L140 959V1180L493 1409H759V0Z" fill="#000"/>
<text x="214.81" y="292.35" text-anchor="start" font-size="14" >0</text>
<text x="222.59" y="292.35" text-anchor="start" font-size="14" >0</text>
<path transform="translate(288.62,292.50) scale(0.006836,-0.006836)" d="M478 0V1170L140 959V1180L493 1409H759V0Z" fill="#000"/>
<text x="296.41" y="292.50" text-anchor="start" font-size="14" >5</text>
<text x="304.19" y="292.50" text-anchor="start" font-size="14" >0</text>
<text x="381.60" y="292.75" text-anchor="middle" font-size="14" >200</text>
<text x="46.20" y="278.85" text-anchor="end" font-size="14" >0</text>
<path transform="translate(22.84,219.15) scale(0.006836,-0.006836)" d="M478 0V1170L140 959V1180L493 1409H759V0Z" fill="#000"/>
<text x="30.63" y="219.15" text-anchor="start" font-size="14" >0</text>
<text x="38.41" y="219.15" text-anchor="start" font-size="14" >0</text>
<text x="46.20" y="160.65" text-anchor="end" font-size="14" >200</text>
<text x="46.20" y="101.90" text-anchor="end" font-size="14" >300</text>
<text x="46.20" y="43.35" text-anchor="end" font-size="14" >400</text>
<text x="55.70" y="33.30" text-anchor="middle" font-size="14" >0</text>
<path transform="translate(137.21,33.30) scale(0.006836,-0.006836)" d="M478 0V1170L140 959V1180L493 1409H759V0Z" fill="#000"/>
<text x="226.05" y="33.20" text-anchor="middle" font-size="14" >2</text>
<text x="311.90" y="33.40" text-anchor="middle" font-size="14" >3</text>
<text x="198.0" y="310.60" font-size="14">t</text>
<text x="207.6" y="310.60" font-size="14" transform="translate(0,300.70) scale(1,1.07) translate(0,-300.70)">[</text>
<text x="212.3" y="310.60" font-size="14" textLength="21.6" lengthAdjust="spacing">kyr</text>
<text x="233.5" y="310.60" font-size="14" transform="translate(0,300.70) scale(1,1.07) translate(0,-300.70)">]</text>
<text x="193.7" y="14.7" font-size="14">t <tspan dy="1.2" dx="0.4">[</tspan><tspan dy="-1.2" dx="-0.4">t</tspan><tspan font-size="11" dy="3.9">ff</tspan></text>
<g transform="translate(212.7,8.2) scale(0.9187,1)"><text x="0" y="0" font-size="10.6">0.</text><path transform="translate(8.840,0) scale(0.005176,-0.005176)" d="M478 0V1170L140 959V1180L493 1409H759V0Z" fill="#000"/><text x="14.734" y="0" font-size="10.6">pc</text></g>
<text x="238.3" y="15.9" font-size="14">]</text>
<g transform="translate(14.0,207.0) rotate(-90)"><text x="0" y="0" font-size="14">m<tspan font-size="10" dy="-7" dx="0.2">tot</tspan><tspan font-size="14" dy="7"> [M</tspan></text><rect x="13.5" y="0.1" width="4.4" height="1.8" fill="#000"/><circle cx="49.5" cy="-1.0" r="3.5" fill="none" stroke="#000" stroke-width="1.3"/><circle cx="49.5" cy="-1.0" r="1.2" fill="#000"/><text x="59.2" y="0" font-size="14">km/s]</text></g>
</svg>
</body></html>
